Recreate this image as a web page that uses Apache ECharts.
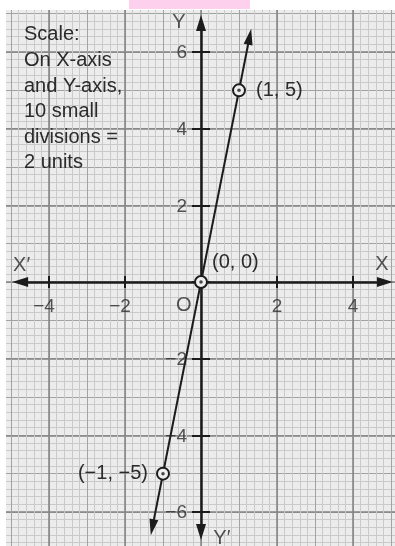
<!DOCTYPE html>
<html>
<head>
<meta charset="utf-8">
<script src="https://cdn.jsdelivr.net/npm/echarts@6/dist/echarts.min.js"></script>
<style>
  html, body { margin: 0; padding: 0; background: #fff; }
  #chart { width: 395px; height: 546px; }
</style>
</head>
<body>
<div id="chart"></div>
<script>
// Graph of y = 5x drawn on graph paper, through three tabulated points.
const points = [[-1, -5], [0, 0], [1, 5]];
const lineEnds = [[-1.28, -6.4], [1.28, 6.4]];
const xTicks = [-4, -2, 2, 4];
const yTicks = [-6, -4, -2, 2, 4, 6];
const xAxisEnds = [-4.76, 4.84];
const yAxisEnds = [-6.52, 6.76];
const axisLetters = ['X\u2032', 'X', 'Y', 'Y\u2032', 'O'];
const scaleNote = ['Scale:', 'On X-axis', 'and Y-axis,', '10 small', 'divisions =', '2 units'];

// where each axis letter sits, in graph units
const letterSpots = [[-4.72, 0.44], [4.76, 0.47], [-0.58, 6.78], [0.55, -6.70], [-0.45, -0.6]];
// label placement for each plotted point
const pointLabelPlace = [
  { position: 'left', distance: 8, offset: [0, 0] },
  { position: 'right', distance: 4, offset: [0, -20] },
  { position: 'right', distance: 10, offset: [0, 0] }
];

const INK = '#1c1c1c';
const TEXT = '#2b2b2b';
const FONT = 'Liberation Sans, Arial, sans-serif';
const minus = v => (v < 0 ? '\u2212' + Math.abs(v) : String(v));

function paperAxis(kind, interval, color, width, minor) {
  const ax = {
    type: 'value', min: kind === 'x' ? -6 : -8, max: kind === 'x' ? 6 : 8, interval: interval,
    axisLine: { show: false }, axisTick: { show: false }, axisLabel: { show: false },
    splitLine: { show: true, lineStyle: { color: color, width: width } }
  };
  if (minor) {
    ax.minorTick = { show: false, splitNumber: 5 };
    ax.minorSplitLine = { show: true, lineStyle: { color: minor, width: 1 } };
  }
  return ax;
}

// short tick marks crossing the axis line, one axis per side
function tickAxis(kind, inside) {
  return {
    type: 'value', min: kind === 'x' ? -6 : -8, max: kind === 'x' ? 6 : 8, interval: 2,
    axisLine: { show: false, onZero: true, onZeroAxisIndex: 0 },
    axisTick: { show: true, inside: inside, length: kind === 'x' ? 6 : 9, lineStyle: { color: INK, width: 2 } },
    axisLabel: { show: false },
    splitLine: { show: false }
  };
}

const tickFont = { fontSize: 19, color: TEXT, fontFamily: FONT };

const chart = echarts.init(document.getElementById('chart'), null, { renderer: 'canvas' });

const option = {
  animation: false,
  backgroundColor: '#ececec',
  grid: { left: -27, top: -24.64, width: 456, height: 613.28, containLabel: false, outerBoundsMode: 'none' },
  xAxis: [
    paperAxis('x', 1, '#a3a3a3', 1, '#cacaca'),
    paperAxis('x', 2, '#838383', 1.5),
    tickAxis('x', false),
    tickAxis('x', true)
  ],
  yAxis: [
    paperAxis('y', 1, '#a3a3a3', 1, '#cacaca'),
    paperAxis('y', 2, '#838383', 1.5),
    tickAxis('y', false),
    tickAxis('y', true)
  ],
  series: [
    {
      // the two coordinate axes with arrowheads
      type: 'line', data: [], z: 3, silent: true,
      markLine: {
        silent: true, animation: false,
        symbol: ['triangle', 'triangle'], symbolSize: [10, 16],
        label: { show: false },
        lineStyle: { color: INK, width: 2.5, type: 'solid' },
        emphasis: { disabled: true },
        data: [
          [{ coord: [xAxisEnds[0], 0] }, { coord: [xAxisEnds[1], 0] }],
          [{ coord: [0, yAxisEnds[0]] }, { coord: [0, yAxisEnds[1]] }]
        ]
      }
    },
    {
      // the graph of y = 5x
      type: 'line', data: [], z: 4, silent: true,
      markLine: {
        silent: true, animation: false,
        symbol: ['triangle', 'triangle'], symbolSize: [9, 16],
        label: { show: false },
        lineStyle: { color: INK, width: 2, type: 'solid' },
        emphasis: { disabled: true },
        data: [[{ coord: lineEnds[0] }, { coord: lineEnds[1] }]]
      }
    },
    {
      // x tick numbers below the axis
      type: 'scatter', z: 6, silent: true, symbolSize: 0,
      data: xTicks.map(t => ({
        value: [t, 0],
        label: Object.assign({ show: true, position: 'bottom', distance: 15, offset: [t < 0 ? -5 : 0, 0] }, tickFont)
      })),
      label: Object.assign({ show: true, position: 'bottom', formatter: p => minus(p.value[0]) }, tickFont)
    },
    {
      // y tick numbers left of the axis
      type: 'scatter', z: 6, silent: true, symbolSize: 0,
      data: yTicks.map(t => [0, t]),
      label: Object.assign({ show: true, position: 'left', distance: 14, offset: [0, 1], formatter: p => minus(p.value[1]) }, tickFont)
    },
    {
      // plotted points: ring marks with coordinate labels
      type: 'scatter', z: 5, silent: true,
      symbol: 'circle', symbolSize: 12,
      itemStyle: { color: '#eeeeee', borderColor: INK, borderWidth: 2, opacity: 1 },
      data: points.map((p, i) => ({
        value: p,
        label: {
          show: true,
          position: pointLabelPlace[i].position,
          distance: pointLabelPlace[i].distance,
          offset: pointLabelPlace[i].offset
        }
      })),
      label: {
        show: true, fontSize: 20, color: TEXT, fontFamily: FONT,
        formatter: p => '(' + minus(p.value[0]) + ', ' + minus(p.value[1]) + ')'
      }
    },
    {
      // centre dots of the ring marks
      type: 'scatter', z: 6, silent: true,
      symbol: 'circle', symbolSize: 3.5,
      itemStyle: { color: INK },
      data: points
    },
    {
      // axis letters and origin
      type: 'scatter', z: 6, silent: true, symbolSize: 0,
      data: letterSpots.map((s, i) => ({ value: s, name: axisLetters[i] })),
      label: {
        show: true, position: 'inside', fontSize: 20, color: TEXT, fontFamily: FONT,
        formatter: p => p.name
      }
    }
  ],
  graphic: [
    { type: 'rect', z: 100, shape: { x: 0, y: 0, width: 395, height: 10 }, style: { fill: '#fff' } },
    { type: 'rect', z: 100, shape: { x: 0, y: 0, width: 6, height: 546 }, style: { fill: '#fff' } },
    { type: 'rect', z: 101, shape: { x: 129, y: 0, width: 121, height: 9 }, style: { fill: '#fdd0ee' } },
    {
      type: 'text', z: 50, left: 24, top: 22,
      style: { text: scaleNote.join('\n'), font: '20px ' + FONT, lineHeight: 25.6, fill: TEXT }
    }
  ]
};

chart.setOption(option);
</script>
</body>
</html>
